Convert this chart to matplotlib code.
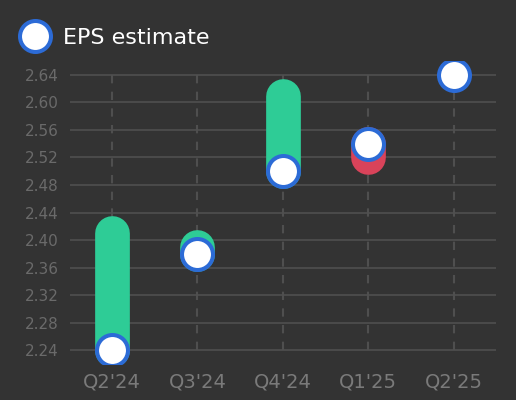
import numpy as np
import matplotlib
matplotlib.use("Agg")
import matplotlib.pyplot as plt
from matplotlib.lines import Line2D

# data
quarters = ["Q2'24", "Q3'24", "Q4'24", "Q1'25", "Q2'25"]
eps_estimate = [2.24, 2.38, 2.50, 2.54, 2.64]
eps_actual = [2.41, 2.39, 2.61, 2.52, None]
y_ticks = [2.24, 2.28, 2.32, 2.36, 2.40, 2.44, 2.48, 2.52, 2.56, 2.60, 2.64]

bg = "#333333"
green = "#2ecc96"
red = "#d9435a"
blue = "#2c6bd6"

fig = plt.figure(figsize=(5.16, 4.0), dpi=100, facecolor=bg)
ax = fig.add_axes([0.1357, 0.0906, 0.825, 0.7563], facecolor=bg)

x = np.arange(len(quarters))

# vertical dashed guides
ax.vlines(x, y_ticks[0], y_ticks[-1], colors="#4f4f4f", linestyles=(0, (4, 4)),
          linewidth=1.5, zorder=1)

# actual vs estimate bars
for i in range(len(quarters)):
    if eps_actual[i] is None:
        continue
    c = green if eps_actual[i] >= eps_estimate[i] else red
    ax.plot([x[i], x[i]], [eps_estimate[i], eps_actual[i]], color=c, lw=25,
            solid_capstyle="round", zorder=2)

# estimate markers
ax.plot(x, eps_estimate, linestyle="none", marker="o", ms=22.3,
        markerfacecolor="white", markeredgecolor=blue, markeredgewidth=2.9,
        zorder=3)

ax.set_xlim(-0.49, 4.49)
ax.set_ylim(2.22, 2.66)
ax.set_yticks(y_ticks)
ax.set_yticklabels([f"{v:.2f}" for v in y_ticks])
ax.set_xticks(x)
ax.set_xticklabels(quarters)
ax.grid(axis="y", color="#4a4a4a", linewidth=1.5)
ax.set_axisbelow(True)
for s in ax.spines.values():
    s.set_visible(False)
ax.tick_params(axis="y", length=0, labelsize=11, labelcolor="#6a6a6a", pad=8)
ax.tick_params(axis="x", length=0, labelsize=14, labelcolor="#7a7a7a", pad=6)

handle = Line2D([], [], linestyle="none", marker="o", ms=22.3,
                markerfacecolor="white", markeredgecolor=blue,
                markeredgewidth=2.9)
leg = fig.legend([handle], ["EPS estimate"], loc="upper left",
                 bbox_to_anchor=(0.0033, 0.98), frameon=False, fontsize=16,
                 handletextpad=0.66, handlelength=1.2, labelcolor="white")

fig.savefig("out.png", dpi=100, facecolor=bg)
